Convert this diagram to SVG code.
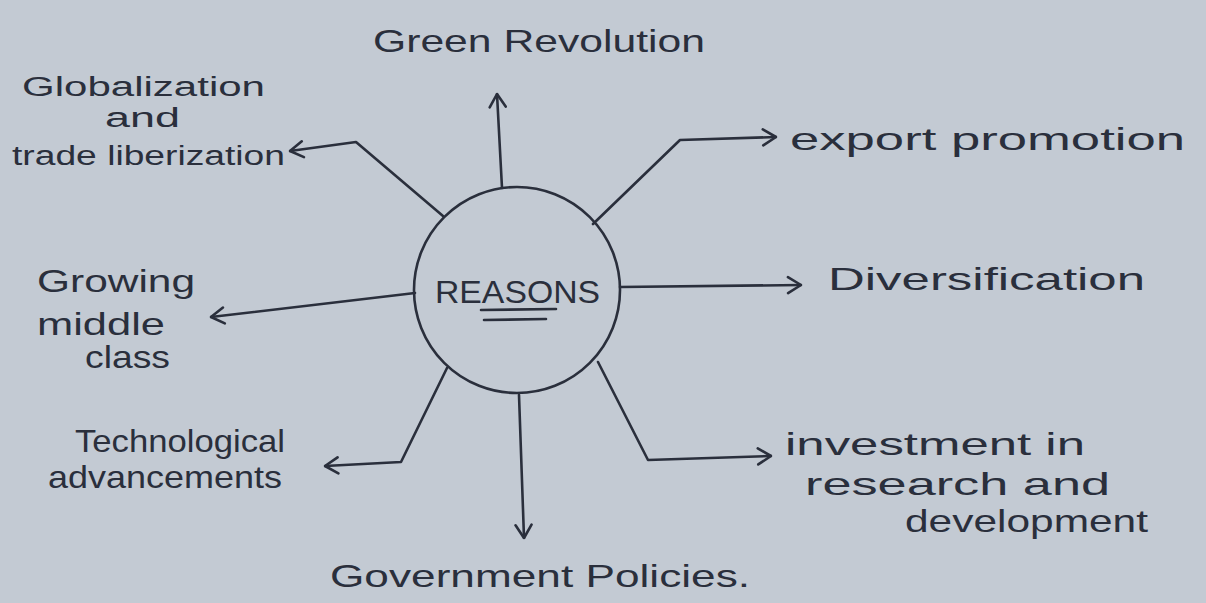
<svg xmlns="http://www.w3.org/2000/svg" width="1206" height="603" viewBox="0 0 1206 603">
<style>
.ink{fill:none;stroke:#2a2f3c;stroke-width:2.6;stroke-linecap:round;stroke-linejoin:round}
.t{font-family:"Liberation Sans","Open Sans",sans-serif;fill:#2a2f3c;font-size:32px}
.s{font-size:27px}
</style>
<defs>
<marker id="arr" viewBox="0 0 16 20" refX="15" refY="10" markerWidth="16" markerHeight="20" markerUnits="userSpaceOnUse" orient="auto">
<path d="M2,2 L15,10 L2,18" fill="none" stroke="#2a2f3c" stroke-width="2.6" stroke-linecap="round" stroke-linejoin="round"/>
</marker>
</defs>
<rect width="1206" height="603" fill="#c3cad3"/>
<g id="connectors">
<path class="ink" d="M502,188 L497,94" marker-end="url(#arr)"/>
<path class="ink" d="M443,216 L356,142 L290,151" marker-end="url(#arr)"/>
<path class="ink" d="M593,224 L680,140 L776,137" marker-end="url(#arr)"/>
<path class="ink" d="M620,287 L801,285" marker-end="url(#arr)"/>
<path class="ink" d="M415,293 L211,317" marker-end="url(#arr)"/>
<path class="ink" d="M598,362 L648,460 L771,456" marker-end="url(#arr)"/>
<path class="ink" d="M447,368 L401,462 L325,466" marker-end="url(#arr)"/>
<path class="ink" d="M519,395 L524,538" marker-end="url(#arr)"/>
</g>
<g id="reasons">
<circle class="ink" cx="517" cy="290" r="103"/>
<text class="t" x="435" y="303" textLength="165" lengthAdjust="spacingAndGlyphs">REASONS</text>
<path class="ink" d="M481,310 L556,309 M484,320 L546,319"/>
</g>
<g id="green-revolution">
<text class="t" x="373" y="52" textLength="332" lengthAdjust="spacingAndGlyphs">Green Revolution</text>
</g>
<g id="globalization">
<text class="t s" x="22" y="96" textLength="243" lengthAdjust="spacingAndGlyphs">Globalization</text>
<text class="t s" x="105" y="127" textLength="75" lengthAdjust="spacingAndGlyphs">and</text>
<text class="t s" x="12" y="165" textLength="273" lengthAdjust="spacingAndGlyphs">trade liberization</text>
</g>
<g id="export-promotion">
<text class="t" x="790" y="150" textLength="395" lengthAdjust="spacingAndGlyphs">export promotion</text>
</g>
<g id="diversification">
<text class="t" x="828" y="290" textLength="317" lengthAdjust="spacingAndGlyphs">Diversification</text>
</g>
<g id="growing-middle-class">
<text class="t" x="37" y="292" textLength="158" lengthAdjust="spacingAndGlyphs">Growing</text>
<text class="t" x="37" y="335" textLength="128" lengthAdjust="spacingAndGlyphs">middle</text>
<text class="t" x="85" y="368" textLength="85" lengthAdjust="spacingAndGlyphs">class</text>
</g>
<g id="technological">
<text class="t" x="75" y="452" textLength="210" lengthAdjust="spacingAndGlyphs">Technological</text>
<text class="t" x="48" y="488" textLength="234" lengthAdjust="spacingAndGlyphs">advancements</text>
</g>
<g id="investment">
<text class="t" x="785" y="455" textLength="300" lengthAdjust="spacingAndGlyphs">investment in</text>
<text class="t" x="805" y="495" textLength="305" lengthAdjust="spacingAndGlyphs">research and</text>
<text class="t" x="905" y="532" textLength="243" lengthAdjust="spacingAndGlyphs">development</text>
</g>
<g id="government-policies">
<text class="t" x="330" y="587" textLength="420" lengthAdjust="spacingAndGlyphs">Government Policies.</text>
</g>
</svg>
